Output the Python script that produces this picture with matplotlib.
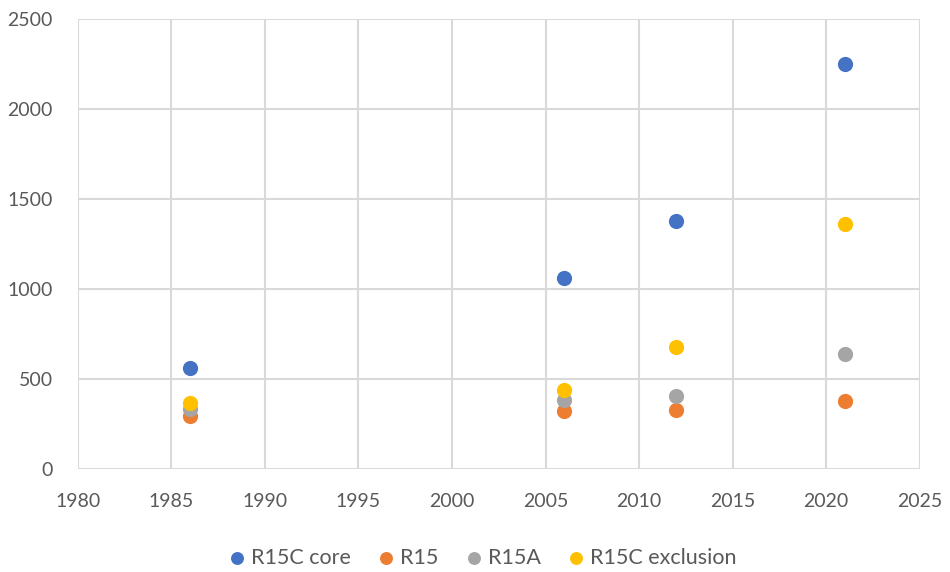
import matplotlib.pyplot as plt

plt.rcParams['font.family'] = ['Lato', 'DejaVu Sans']

years = [1986, 2006, 2012, 2021]
r15c_core = [560, 1060, 1375, 2250]
r15 = [295, 325, 330, 380]
r15a = [335, 385, 405, 640]
r15c_exclusion = [365, 440, 675, 1360]

series = [
    ("R15C core", r15c_core, "#4472C4"),
    ("R15", r15, "#ED7D31"),
    ("R15A", r15a, "#A5A5A5"),
    ("R15C exclusion", r15c_exclusion, "#FFC000"),
]

fig = plt.figure(figsize=(9.5, 5.72), dpi=100)
ax = fig.add_axes([0.082, 0.18, 0.886, 0.787])

for name, vals, color in series:
    ax.scatter(years, vals, s=120, color=color, label=name, zorder=3, linewidths=0)

ax.set_xlim(1980, 2025)
ax.set_ylim(0, 2500)
ax.set_xticks(range(1980, 2026, 5))
ax.set_yticks(range(0, 2501, 500))
ax.grid(True, color="#d9d9d9", linewidth=1.5, zorder=0)
ax.set_axisbelow(True)
for s in ax.spines.values():
    s.set_visible(False)
ax.tick_params(length=0, labelsize=14, colors="#595959")
ax.tick_params(axis="y", pad=18)
ax.tick_params(axis="x", pad=17)

# legend row under the plot
fig.legend(loc="center", bbox_to_anchor=(0.509, 1 - 558 / 572), ncol=4, frameon=False,
           fontsize=15.5, labelcolor="#595959", handlelength=0.6, handletextpad=0.35,
           columnspacing=1.35, markerscale=0.85)

fig.savefig("out.png", dpi=100)
